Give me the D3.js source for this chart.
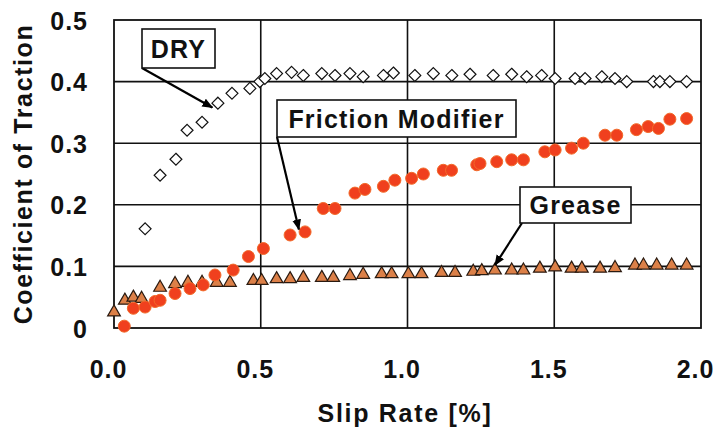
<!DOCTYPE html>
<html>
<head>
<meta charset="utf-8">
<script src="https://cdn.jsdelivr.net/npm/d3@7/dist/d3.min.js"></script>
<style>
  html, body { margin: 0; padding: 0; background: #fff; }
  svg { display: block; }
  text { font-family: "Liberation Sans", Arial, sans-serif; font-weight: bold; fill: #111; }
</style>
</head>
<body>
<svg id="chart" width="717" height="437"></svg>
<script>
// ---------- data ----------
const dryX = [0.106,0.157,0.211,0.249,0.300,0.354,0.402,0.463,0.497,0.514,0.554,0.605,0.645,0.708,0.753,0.804,0.849,0.918,0.952,1.025,1.088,1.151,1.213,1.292,1.355,1.406,1.457,1.503,1.571,1.605,1.662,1.707,1.747,1.838,1.860,1.894,1.951];
const dryY = [0.161,0.248,0.274,0.321,0.334,0.365,0.381,0.389,0.400,0.405,0.413,0.415,0.410,0.413,0.410,0.413,0.408,0.410,0.414,0.410,0.413,0.410,0.412,0.410,0.412,0.408,0.410,0.405,0.405,0.405,0.408,0.405,0.400,0.400,0.400,0.400,0.400];

const fmX = [0.035,0.066,0.106,0.140,0.157,0.208,0.259,0.304,0.344,0.406,0.458,0.509,0.600,0.651,0.713,0.753,0.821,0.855,0.918,0.957,1.014,1.054,1.122,1.150,1.236,1.247,1.304,1.355,1.395,1.468,1.503,1.559,1.599,1.673,1.713,1.780,1.820,1.855,1.894,1.951];
const fmY = [0.003,0.032,0.034,0.043,0.045,0.056,0.064,0.070,0.086,0.094,0.116,0.129,0.151,0.156,0.194,0.194,0.219,0.225,0.230,0.240,0.243,0.250,0.256,0.256,0.265,0.267,0.270,0.273,0.273,0.286,0.289,0.292,0.300,0.313,0.313,0.322,0.327,0.324,0.339,0.340];

const grX = [0.000,0.037,0.066,0.094,0.157,0.208,0.252,0.300,0.350,0.395,0.475,0.503,0.554,0.600,0.645,0.708,0.747,0.804,0.849,0.912,0.946,1.003,1.048,1.116,1.162,1.224,1.253,1.298,1.355,1.395,1.451,1.503,1.559,1.594,1.656,1.707,1.775,1.804,1.849,1.900,1.951];
const grY = [0.024,0.043,0.048,0.046,0.064,0.070,0.072,0.072,0.072,0.072,0.075,0.075,0.078,0.078,0.080,0.080,0.080,0.083,0.085,0.086,0.086,0.086,0.086,0.088,0.088,0.090,0.091,0.092,0.092,0.092,0.095,0.097,0.095,0.095,0.095,0.096,0.100,0.100,0.100,0.100,0.100];

const xTicks = [0, 0.5, 1.0, 1.5, 2.0];
const xTickLabels = ["0.0", "0.5", "1.0", "1.5", "2.0"];
const yTicks = [0, 0.1, 0.2, 0.3, 0.4, 0.5];
const yTickLabels = ["0", "0.1", "0.2", "0.3", "0.4", "0.5"];

const xTitle = "Slip Rate [%]";
const yTitle = "Coefficient of Traction";

// annotation labels: text and the data point each leader points to
const labelText = ["DRY", "Friction Modifier", "Grease"];
const labelTargetX = [0.335, 0.630, 1.298];
const labelTargetY = [0.358, 0.160, 0.102];

// ---------- layout ----------
const L = 114, R = 701, T = 20, B = 328;
const svg = d3.select("#chart");
const x = d3.scaleLinear().domain([0, 2]).range([L, R]);
const y = d3.scaleLinear().domain([0, 0.5]).range([B, T]);

// marker def
svg.append("defs").append("marker")
  .attr("id", "arrow").attr("viewBox", "0 0 10 10")
  .attr("refX", 9).attr("refY", 5)
  .attr("markerWidth", 5).attr("markerHeight", 5)
  .attr("orient", "auto")
  .append("path").attr("d", "M0,1 L10,5 L0,9 Z").attr("fill", "#000");

// gridlines
const grid = svg.append("g");
grid.selectAll("line.vx").data(xTicks.slice(1, -1)).join("line")
  .attr("x1", d => x(d)).attr("x2", d => x(d)).attr("y1", T).attr("y2", B)
  .attr("stroke", "#111").attr("stroke-width", 1.6);
grid.selectAll("line.hy").data(yTicks.slice(1, -1)).join("line")
  .attr("x1", L).attr("x2", R).attr("y1", d => y(d)).attr("y2", d => y(d))
  .attr("stroke", "#111").attr("stroke-width", 1.6);
svg.append("rect").attr("x", L).attr("y", T).attr("width", R - L).attr("height", B - T)
  .attr("fill", "none").attr("stroke", "#111").attr("stroke-width", 1.8);

// axes (labels only)
const xAxis = svg.append("g").attr("transform", `translate(-6,${B})`)
  .call(d3.axisBottom(x).tickValues(xTicks).tickFormat((d, i) => xTickLabels[i]).tickSize(0).tickPadding(0));
xAxis.select(".domain").remove();
xAxis.selectAll("text").attr("y", 50).attr("dy", 0)
  .style("font-size", "25px").style("letter-spacing", "1px")
  .style("font-family", "'Liberation Sans', Arial, sans-serif").style("font-weight", "bold").attr("fill", "#111");

const yAxis = svg.append("g").attr("transform", `translate(88,0)`)
  .call(d3.axisLeft(y).tickValues(yTicks).tickFormat((d, i) => yTickLabels[i]).tickSize(0).tickPadding(0));
yAxis.select(".domain").remove();
yAxis.selectAll("text").attr("dy", "0.36em")
  .style("font-size", "25px").style("letter-spacing", "1px")
  .style("font-family", "'Liberation Sans', Arial, sans-serif").style("font-weight", "bold").attr("fill", "#111");

// axis titles
svg.append("text").attr("x", 405).attr("y", 422).attr("text-anchor", "middle")
  .style("font-size", "25px").style("letter-spacing", "1.7px").text(xTitle);
svg.append("text").attr("transform", "translate(32,174) rotate(-90)").attr("text-anchor", "middle")
  .style("font-size", "25px").style("letter-spacing", "1.6px").text(yTitle);

// ---------- series ----------
// Grease triangles
const tri = d3.symbol().type(d3.symbolTriangle).size(70);
svg.append("g").selectAll("path").data(grX.map((d, i) => [d, grY[i]])).join("path")
  .attr("d", tri)
  .attr("transform", d => `translate(${x(d[0])},${y(d[1]) - 1})`)
  .attr("fill", "#dc8048").attr("stroke", "#2a1a10").attr("stroke-width", 1.2);

// Friction modifier circles
svg.append("g").selectAll("circle").data(fmX.map((d, i) => [d, fmY[i]])).join("circle")
  .attr("cx", d => x(d[0])).attr("cy", d => y(d[1])).attr("r", 6)
  .attr("fill", "#f0401e").attr("stroke", "#f26a2a").attr("stroke-width", 1);

// Dry diamonds
const dia = d3.symbol().type(d3.symbolDiamond2).size(90);
svg.append("g").selectAll("path").data(dryX.map((d, i) => [d, dryY[i]])).join("path")
  .attr("d", dia)
  .attr("transform", d => `translate(${x(d[0])},${y(d[1])})`)
  .attr("fill", "#fff").attr("stroke", "#111").attr("stroke-width", 1.2);

// ---------- annotations ----------
const boxes = [
  {bx: 142, by: 29, bw: 73, bh: 39, ax: 142, ay: 68},
  {bx: 277, by: 100, bw: 239, bh: 37, ax: 277, ay: 137},
  {bx: 520, by: 187, bw: 111, bh: 36, ax: 522, ay: 223}
];
const ann = svg.append("g");
boxes.forEach((b, i) => {
  ann.append("line")
    .attr("x1", b.ax).attr("y1", b.ay)
    .attr("x2", x(labelTargetX[i])).attr("y2", y(labelTargetY[i]))
    .attr("stroke", "#000").attr("stroke-width", 2.2).attr("marker-end", "url(#arrow)");
  ann.append("rect").attr("x", b.bx).attr("y", b.by).attr("width", b.bw).attr("height", b.bh)
    .attr("fill", "#fff").attr("stroke", "#111").attr("stroke-width", 1.6);
  ann.append("text").attr("x", b.bx + b.bw / 2).attr("y", b.by + b.bh / 2).attr("dy", "0.36em")
    .attr("text-anchor", "middle").style("font-size", "25px").style("letter-spacing", "1.2px")
    .text(labelText[i]);
});
</script>
</body>
</html>
